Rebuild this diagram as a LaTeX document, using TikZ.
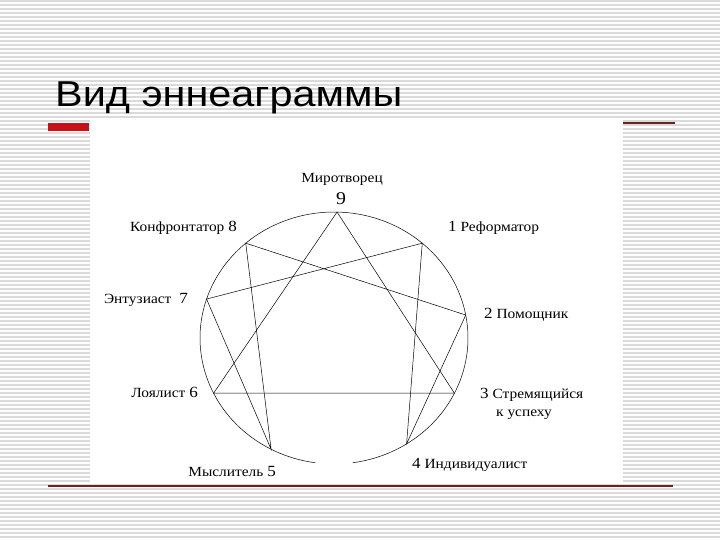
\documentclass[tikz,border=0pt]{standalone}
\usepackage{fontspec}
\setmainfont{Liberation Serif}
\newfontfamily\labfont[FakeStretch=1.1]{Liberation Serif}
\newfontfamily\titlefont[FakeStretch=1.15]{Liberation Sans}
\usetikzlibrary{calc}
\definecolor{barred}{RGB}{200,16,24}
\definecolor{linered}{RGB}{105,35,35}
\definecolor{stripe}{RGB}{218,218,218}
\newcommand{\bignum}[1]{{\fontsize{15.5}{18}\selectfont #1}}

\begin{document}
\begin{tikzpicture}[x=1pt, y=-1pt,
    lab/.style = {inner sep=0pt, font=\labfont\fontsize{14}{16}\selectfont},
    edge/.style = {black, line width=0.5pt}  % lines of the figure
                    ]
    \useasboundingbox (0,0) rectangle (720,540);
    % striped slide background
    \fill[white] (0,0) rectangle (720,540);
    \foreach \y in {1,5,...,540}
        \draw[stripe, line width=1.3pt] (0,\y) -- (720,\y);
    % white picture panel and rules
    \fill[white] (90,118) rectangle (623,483);
    \fill[barred] (48,123) rectangle (89,131);
    \draw[linered, line width=1.2pt] (623,123) -- (675,123);
    \draw[linered, line width=1.2pt] (48,486) -- (673,486);
    \node[anchor=base west, inner sep=0pt, font=\titlefont\fontsize{36}{40}\selectfont] (title) at (55,107) {Вид эннеаграммы};
    % enneagram
    \def\cx{334}
    \def\cy{338}
    \def\rx{134}
    \def\ry{126}
    \draw[edge] plot[domain=-82:262, samples=150] ({\cx+\rx*cos(\x)}, {\cy-\ry*sin(\x)});
    \foreach \a/\n in {88.7/9, 48.8/1, 10.5/2, -26/3, -57.2/4, -118/5, -154/6, 162/7, 131.2/8}
        \coordinate (p\n) at ({\cx+\rx*cos(\a)}, {\cy-\ry*sin(\a)});
    \draw[edge] (p9) -- (p3) -- (p6) -- cycle;
    \draw[edge] (p1) -- (p4) -- (p2) -- (p8) -- (p5) -- (p7) -- cycle;
    % labels
    \node[lab, anchor=base] (t9) at (342,183) {Миротворец};
    \node[lab, anchor=base, font=\labfont\fontsize{18}{20}\selectfont] (d9) at (341,205) {9};
    \foreach \x/\y/\n/\t in {237/232/8/Конфронтатор, 188/303/7/Энтузиаст\kern4pt, 198/397/6/Лоялист, 276/476/5/Мыслитель}
        \node[lab, anchor=base east] (t\n) at (\x,\y) {\t~\bignum{\n}};
    \foreach \x/\y/\n/\t in {448/232/1/Реформатор, 484/318/2/Помощник, 480/398/3/Стремящийся, 412/468/4/Индивидуалист}
        \node[lab, anchor=base west] (t\n) at (\x,\y) {\bignum{\n}~\t};
    \node[lab, anchor=base west] (t3b) at (496,416.5) {к успеху};
\end{tikzpicture}
\end{document}
